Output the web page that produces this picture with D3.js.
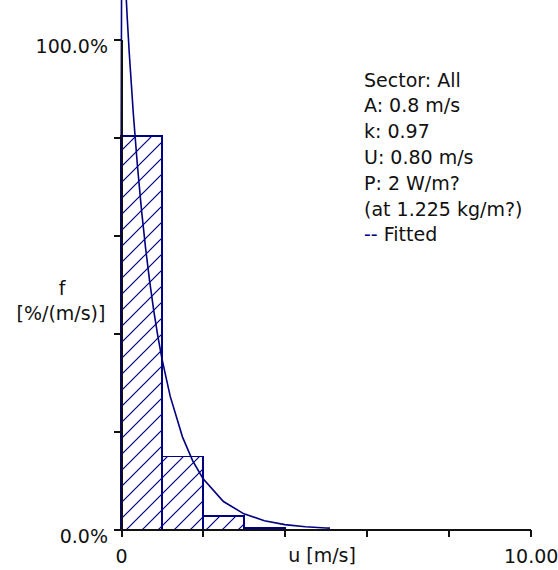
<!DOCTYPE html>
<html>
<head>
    <script src="https://d3js.org/d3.v7.min.js"></script>
    <style>
        body { margin: 0; background: #fff; }
        text { font-family: "DejaVu Sans", Verdana, sans-serif; font-size: 19px; fill: #111; }
        .axis path, .axis line { stroke: #111; stroke-width: 2; shape-rendering: crispEdges; }
        .bar { fill: url(#hatch); stroke: #000080; stroke-width: 1.8; shape-rendering: crispEdges; }
        .fit { fill: none; stroke: #000080; stroke-width: 1.6; }
    </style>
</head>
<body>
    <div id="chart"></div>
    <script>
        // histogram bins (m/s) and frequencies (%/(m/s))
        const binStart = [0, 1, 2, 3];
        const binEnd = [1, 2, 3, 4];
        const freq = [80.3, 14.9, 2.8, 0.3];

        // fitted curve
        const fitU = [0, 0.02, 0.05, 0.1, 0.15, 0.2, 0.3, 0.4, 0.5, 0.6, 0.7, 0.8, 0.9, 1.0, 1.2, 1.5, 1.75, 2.0, 2.5, 3.0, 3.5, 4.0, 4.5, 5.0, 5.1];
        const fitF = [64.6, 131.7, 123.1, 113.0, 104.7, 97.4, 84.9, 74.3, 65.2, 57.4, 50.6, 44.6, 39.4, 34.8, 27.2, 18.9, 14.0, 10.4, 5.7, 3.2, 1.8, 1.0, 0.56, 0.31, 0.28];

        const xTicks = [0, 2, 4, 6, 8, 10];
        const xLabels = ["0", "", "", "", "", "10.00"];
        const yTicks = [0, 20, 40, 60, 80, 100];
        const yLabels = ["0.0%", "", "", "", "", "100.0%"];

        const infoLines = ["Sector: All", "A: 0.8 m/s", "k: 0.97", "U: 0.80 m/s", "P: 2 W/m?", "(at 1.225 kg/m?)"];

        const width = 558, height = 570;

        const svg = d3.select("#chart")
            .append("svg")
            .attr("width", width)
            .attr("height", height);

        // diagonal hatch fill
        const hs = 16;
        const pat = svg.append("defs").append("pattern")
            .attr("id", "hatch")
            .attr("patternUnits", "userSpaceOnUse")
            .attr("width", hs)
            .attr("height", hs);
        pat.append("rect").attr("width", hs).attr("height", hs).attr("fill", "#fff");
        pat.append("path")
            .attr("d", `M-4,4 L4,-4 M0,${hs} L${hs},0 M${hs - 4},${hs + 4} L${hs + 4},${hs - 4}`)
            .attr("stroke", "#000080")
            .attr("stroke-width", 1.2);

        const x = d3.scaleLinear().domain([0, 10]).range([121, 530.7]);
        const y = d3.scaleLinear().domain([0, 100]).range([529.5, 39.3]);

        // bars
        svg.selectAll(".bar")
            .data(freq)
            .enter()
            .append("rect")
            .attr("class", "bar")
            .attr("x", (d, i) => x(binStart[i]))
            .attr("y", d => y(d))
            .attr("width", (d, i) => x(binEnd[i]) - x(binStart[i]))
            .attr("height", d => y(0) - y(d));

        // fitted curve
        const line = d3.line()
            .x(d => x(d[0]))
            .y(d => y(d[1]));

        svg.append("path")
            .datum(fitU.map((u, i) => [u, fitF[i]]))
            .attr("class", "fit")
            .attr("d", line);

        // axes
        const yAxis = d3.axisLeft(y)
            .tickValues(yTicks)
            .tickSize(7)
            .tickSizeOuter(0)
            .tickFormat((d, i) => yLabels[i]);

        const gy = svg.append("g")
            .attr("class", "axis")
            .attr("transform", `translate(${x(0)},0)`)
            .call(yAxis);
        gy.selectAll("text")
            .attr("x", -13)
            .attr("dy", "0.7em");

        const xAxis = d3.axisBottom(x)
            .tickValues(xTicks)
            .tickSize(7)
            .tickSizeOuter(0)
            .tickFormat((d, i) => xLabels[i]);

        const gx = svg.append("g")
            .attr("class", "axis")
            .attr("transform", `translate(0,${y(0)})`)
            .call(xAxis);
        gx.selectAll("text")
            .attr("y", 20)
            .attr("dy", "0.71em");

        svg.selectAll(".axis").attr("font-size", null).attr("font-family", null);

        // axis titles
        svg.append("text")
            .attr("x", 322)
            .attr("y", 562)
            .attr("text-anchor", "middle")
            .text("u [m/s]");

        svg.append("text")
            .attr("x", 62)
            .attr("y", 295)
            .attr("text-anchor", "middle")
            .text("f");

        svg.append("text")
            .attr("x", 61)
            .attr("y", 320)
            .attr("text-anchor", "middle")
            .text("[%/(m/s)]");

        // info block
        svg.selectAll(".info")
            .data(infoLines)
            .enter()
            .append("text")
            .attr("class", "info")
            .attr("x", 364)
            .attr("y", (d, i) => 86.5 + i * 25.8)
            .text(d => d);

        const fitted = svg.append("text")
            .attr("x", 364)
            .attr("y", 86.5 + infoLines.length * 25.8);
        fitted.append("tspan").style("fill", "#000080").text("--");
        fitted.append("tspan").text(" Fitted");
    </script>
</body>
</html>
